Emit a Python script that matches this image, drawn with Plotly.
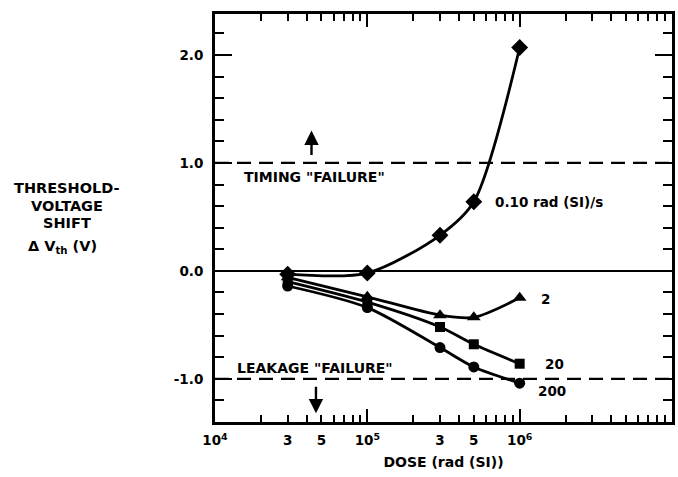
import plotly.graph_objects as go
import numpy as np

dose = [3e4, 1e5, 3e5, 5e5, 1e6]
shift_010 = [-0.03, -0.02, 0.33, 0.64, 2.07]
shift_2 = [-0.06, -0.24, -0.41, -0.43, -0.25]
shift_20 = [-0.10, -0.29, -0.52, -0.68, -0.86]
shift_200 = [-0.14, -0.34, -0.71, -0.89, -1.04]

x_label_vals = [1e4, 3e4, 5e4, 1e5, 3e5, 5e5, 1e6]
x_label_text = ["10<sup>4</sup>", "3", "5", "10<sup>5</sup>", "3", "5", "10<sup>6</sup>"]
x_decades = [1e4, 1e5, 1e6, 1e7]
y_major = [-1.0, 0.0, 1.0, 2.0]
y_labels = ["-1.0", "0.0", "1.0", "2.0"]
y_title_lines = ["THRESHOLD-", "VOLTAGE", "SHIFT"]

FONT = "DejaVu Sans, Verdana, sans-serif"

x_minor = []
for dec in [1e4, 1e5, 1e6]:
    for k in range(2, 10):
        x_minor.append(k * dec)

y_minor = [round(-1.4 + 0.2 * i, 1) for i in range(19)]

fig = go.Figure()

series = [
    (shift_010, "diamond", 13),
    (shift_2, "triangle-up", 12),
    (shift_20, "square", 10),
    (shift_200, "circle", 11),
]
for ys, sym, sz in series:
    fig.add_trace(go.Scatter(
        x=dose, y=ys, mode="lines+markers",
        line=dict(color="black", width=2.8, shape="spline", smoothing=0.8),
        marker=dict(symbol=sym, size=sz, color="black"),
        showlegend=False, cliponaxis=False,
    ))

# invisible trace to activate overlay axes
fig.add_trace(go.Scatter(x=[1e4], y=[0], xaxis="x2", yaxis="y2",
                         mode="markers", marker=dict(opacity=0), showlegend=False,
                         hoverinfo="skip"))

# reference lines
fig.add_shape(type="line", xref="paper", x0=0, x1=1, yref="y", y0=0, y1=0,
              line=dict(color="black", width=2))
for yv in [1.0, -1.0]:
    fig.add_shape(type="line", xref="paper", x0=0, x1=1, yref="y", y0=yv, y1=yv,
                  line=dict(color="black", width=2.2, dash="14px,8px"))

fig.update_layout(
    width=678, height=477,
    margin=dict(l=215, r=3, t=14, b=55),
    paper_bgcolor="white", plot_bgcolor="white",
    font=dict(family=FONT, color="black", size=12),
    xaxis=dict(type="log", range=[4, 7],
               tickvals=x_label_vals, ticktext=["<b>" + t + "</b>" for t in x_label_text],
               ticks="inside", ticklen=7, tickwidth=2, tickcolor="black",
               minor=dict(tickvals=x_minor, ticks="inside", ticklen=7, tickwidth=2,
                          tickcolor="black", showgrid=False),
               showgrid=False, zeroline=False, showline=True, linewidth=3,
               linecolor="black", mirror="ticks", ticklabelstandoff=4,
               tickfont=dict(size=13.5, family=FONT),
               title=dict(text="<b>DOSE (rad (SI))</b>", font=dict(size=14, family=FONT),
                          standoff=10)),
    yaxis=dict(range=[-1.40, 2.38], tickvals=y_major,
               ticktext=["<b>" + t + "</b>" for t in y_labels],
               ticks="inside", ticklen=17, tickwidth=2, tickcolor="black",
               minor=dict(tickvals=y_minor, ticks="inside", ticklen=9, tickwidth=2,
                          tickcolor="black", showgrid=False),
               showgrid=False, zeroline=False, showline=True, linewidth=3,
               linecolor="black", mirror="ticks", ticklabelstandoff=6,
               tickfont=dict(size=13.5, family=FONT)),
    xaxis2=dict(type="log", range=[4, 7], overlaying="x", tickvals=x_decades,
                ticks="inside", ticklen=13, tickwidth=2, tickcolor="black",
                showticklabels=False, showgrid=False, zeroline=False,
                showline=False, mirror="ticks", side="bottom"),
    yaxis2=dict(range=[-1.40, 2.38], overlaying="y", tickvals=y_major,
                ticks="inside", ticklen=17, tickwidth=2, tickcolor="black",
                showticklabels=False, showgrid=False, zeroline=False,
                showline=False, mirror="ticks", side="left"),
)

ann_font = dict(family=FONT, size=13.5, color="black")
annotations = [
    dict(x=np.log10(6.7e5), y=0.64, text="<b>0.10 rad (SI)/s</b>", xanchor="left"),
    dict(x=np.log10(1.34e6), y=-0.26, text="<b>2</b>", xanchor="left"),
    dict(x=np.log10(1.42e6), y=-0.86, text="<b>20</b>", xanchor="left"),
    dict(x=np.log10(1.28e6), y=-1.11, text="<b>200</b>", xanchor="left"),
]
for a in annotations:
    fig.add_annotation(xref="x", yref="y", showarrow=False, font=ann_font,
                       yanchor="middle", **a)
fail_font = dict(family=FONT, size=14, color="black")
fig.add_annotation(xref="x", yref="y", x=np.log10(4.5e4), y=0.87, showarrow=False,
                   text='<b>TIMING "FAILURE"</b>', font=fail_font, xanchor="center",
                   yanchor="middle")
fig.add_annotation(xref="x", yref="y", x=np.log10(4.5e4), y=-0.90, showarrow=False,
                   text='<b>LEAKAGE "FAILURE"</b>', font=fail_font, xanchor="center",
                   yanchor="middle")

# arrows
fig.add_annotation(xref="x", yref="y", axref="x", ayref="y",
                   x=np.log10(4.3e4), y=1.30, ax=np.log10(4.3e4), ay=1.06,
                   text="", showarrow=True, arrowhead=2, arrowsize=1.2,
                   arrowwidth=2.4, arrowcolor="black")
fig.add_annotation(xref="x", yref="y", axref="x", ayref="y",
                   x=np.log10(4.6e4), y=-1.32, ax=np.log10(4.6e4), ay=-1.06,
                   text="", showarrow=True, arrowhead=2, arrowsize=1.2,
                   arrowwidth=2.4, arrowcolor="black")

# y axis title (one annotation per line)
title_font = dict(family=FONT, size=14.5, color="black")
for i, line in enumerate(y_title_lines):
    ypix = 188 + 17.5 * i
    fig.add_annotation(xref="paper", yref="paper", x=(66 - 215) / 460,
                       y=(408 - (ypix - 14)) / 408, text="<b>" + line + "</b>",
                       showarrow=False, font=title_font, xanchor="center",
                       yanchor="middle")
fig.add_annotation(xref="paper", yref="paper", x=(62 - 215) / 460, y=(408 - (247 - 14)) / 408,
                   text="<b>\u0394 V<sub>th</sub> (V)</b>", showarrow=False,
                   font=title_font, xanchor="center", yanchor="middle")

fig.write_html("out.html")
